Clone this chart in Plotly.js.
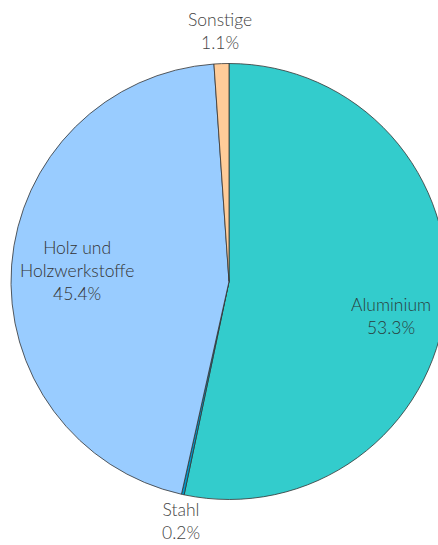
<!DOCTYPE html>
<html><head><meta charset="utf-8">
<script src="https://cdn.plot.ly/plotly-3.0.1.min.js"></script>
<style>html,body{margin:0;padding:0;overflow:hidden;background:#fff}#c{width:460px;height:545px}</style>
</head><body><div id="c"></div>
<script>
const categories = ['Aluminium', 'Stahl', 'Holz und<br>Holzwerkstoffe', 'Sonstige'];
const shares = [53.3, 0.2, 45.4, 1.1];
const colors = ['#33CCCC', '#0099CC', '#99CCFF', '#FFCC99'];
const labelRadius = [0.76, 1.12, 0.70, 1.15];
const labelAngleShift = [6, -1, 0, 0];
const labelColors = ['#2a3a3a', '#444', '#333', '#444'];

const W = 460, H = 545;
const dom = {x: [11/W, 447/W], y: [45/H, 482/H]};
const R = 218;
const cx = (dom.x[0] + dom.x[1]) / 2, cy = (dom.y[0] + dom.y[1]) / 2;
const total = shares.reduce((a, b) => a + b, 0);
let cum = 0;
const annotations = shares.map((v, i) => {
  const a = (cum + v / 2) / total * 2 * Math.PI + labelAngleShift[i] * Math.PI / 180;
  cum += v;
  const f = labelRadius[i];
  return {
    xref: 'paper', yref: 'paper',
    x: cx + R * f * Math.sin(a) / W,
    y: cy + R * f * Math.cos(a) / H,
    xanchor: 'center', yanchor: 'middle',
    text: categories[i] + '<br>' + v.toFixed(1) + '%',
    showarrow: false,
    font: {family: 'Lato', size: 17.5, color: labelColors[i], weight: 300}
  };
});

Plotly.newPlot('c', [{
  type: 'pie',
  labels: categories,
  values: shares,
  sort: false,
  direction: 'clockwise',
  rotation: 0,
  marker: {colors: colors, line: {color: '#333', width: 0.8}},
  textinfo: 'none',
  hole: 0,
  domain: dom,
  automargin: false,
  showlegend: false
}], {
  width: W, height: H,
  margin: {l: 0, r: 0, t: 0, b: 0},
  paper_bgcolor: '#fff',
  showlegend: false,
  annotations: annotations
}, {staticPlot: true});
</script>
</body></html>
